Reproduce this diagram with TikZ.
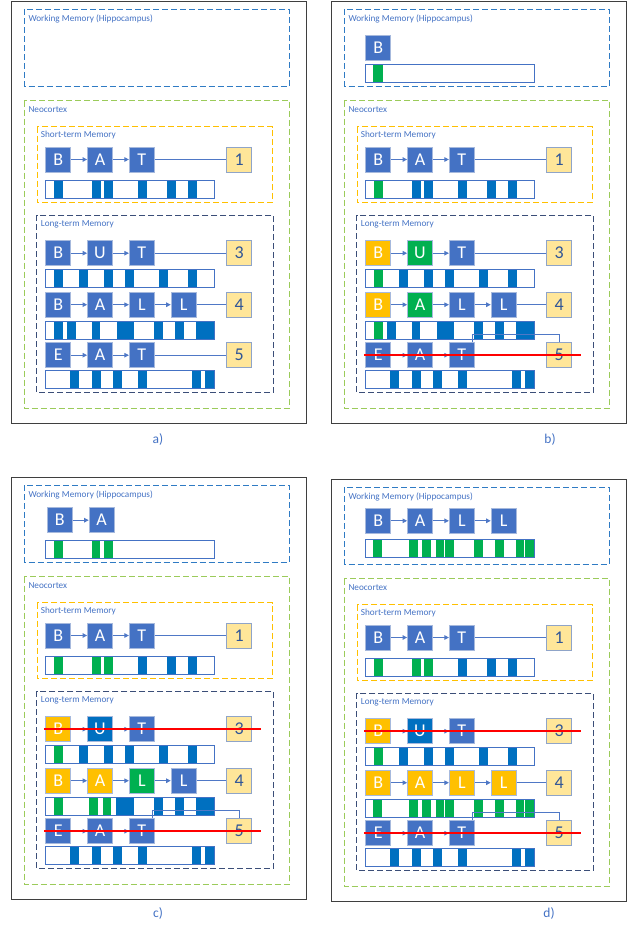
\documentclass[tikz,border=0pt]{standalone}
\usepackage{fontspec}
\setmainfont{Carlito}
\usetikzlibrary{arrows.meta}
\definecolor{lblue}{HTML}{4472C4}
\definecolor{sblue}{HTML}{0070C0}
\definecolor{sgreen}{HTML}{00B050}
\definecolor{orng}{HTML}{FFC000}
\definecolor{nyel}{HTML}{FFE699}
\definecolor{nborder}{HTML}{8FA4C8}
\definecolor{lborder}{HTML}{A6B9DD}
\definecolor{ntext}{HTML}{2F5597}
\definecolor{cline}{HTML}{4F78C6}
\definecolor{wmcol}{HTML}{2F7BC4}
\definecolor{neocol}{HTML}{9BCB5A}
\definecolor{stcol}{HTML}{FFC000}
\definecolor{ltcol}{HTML}{3B4E78}
\definecolor{outcol}{HTML}{3F3F3F}
\definecolor{labcol}{HTML}{4472C4}
\tikzset{
  lbox/.style={draw=lborder, line width=0.8pt, fill=lblue, text=white, minimum size=25pt, inner sep=0pt, font=\fontsize{18}{18}\selectfont},
  nbox/.style={lbox, fill=nyel, draw=nborder, text=ntext},
  conn/.style={draw=cline, line width=0.9pt},
  arr/.style={conn, -{Triangle[length=4.5pt,width=4.5pt]}},
  barbox/.style={draw=none, fill=white, minimum width=168.3pt, minimum height=17.5pt, inner sep=0pt},
  barline/.style={draw=lblue, line width=0.9pt},
  dbox/.style={line width=1pt, dash pattern=on 6pt off 3pt},
  lab/.style={anchor=west, text=labcol, font=\fontsize{9.2}{10}\selectfont, inner sep=0pt},
  plab/.style={text=labcol, font=\fontsize{13.5}{14}\selectfont, inner sep=0pt},
  strike/.style={draw=red, line width=2.5pt},
  outer/.style={draw=outcol, line width=0.9pt},
}
% #1 name, #2 top y, #3 stripes x/w/colour
\newcommand\membar[3]{%
  \node[barbox] (#1) at (129.85,#2+8.75) {};
  \foreach \sx/\sw/\sc in {#3}{\fill[\sc] (\sx,#2) rectangle ++(\sw,17.5);}
  \draw[barline] (#1.north west) rectangle (#1.south east);
}
% common parts of a panel
\newcommand\frameparts[1]{%
  \draw[outer] (11.5,1.5) rectangle (306,423);
  \draw[dbox, draw=wmcol] (24.3,9.3) rectangle (289.3,86);
  \draw[dbox, draw=neocol] (24.3,100.7) rectangle (289.3,408.3);
  \draw[dbox, draw=stcol] (37.3,126.7) rectangle (272.7,202.7);
  \draw[dbox, draw=ltcol] (36.7,215) rectangle (273.3,392.7);
  \node[lab] (#1-wml) at (28.3,19) {Working Memory (Hippocampus)};
  \node[lab] (#1-nel) at (28.3,110) {Neocortex};
  \node[lab] (#1-stl) at (40.7,135) {Short-term Memory};
  \node[lab] (#1-ltl) at (40.7,224) {Long-term Memory};
  % short-term row
  \node[lbox] (#1-s1) at (58.2,159.5) {B};
  \node[lbox] (#1-s2) at (100,159.5) {A};
  \node[lbox] (#1-s3) at (141.8,159.5) {T};
  \node[nbox] (#1-sn) at (239.2,159.5) {1};
  \draw[arr] (#1-s1) -- (#1-s2);
  \draw[arr] (#1-s2) -- (#1-s3);
  \draw[conn] (#1-s3) -- (#1-sn);
  % long-term row 3
  \node[lbox] (#1-r31) at (58.2,355.2) {E};
  \node[lbox] (#1-r32) at (100,355.2) {A};
  \node[lbox] (#1-r33) at (141.8,355.2) {T};
  \node[nbox] (#1-r3n) at (239.2,355.2) {5};
  \draw[arr] (#1-r31) -- (#1-r32);
  \draw[arr] (#1-r32) -- (#1-r33);
  \membar{#1-b3}{371}{70/9/sblue, 91.7/9/sblue, 113/9/sblue, 138/8.7/sblue, 191.7/9/sblue, 204.7/9.3/sblue}
}
% row 1 and row 2 letters
\newcommand\rowone[4]{% prefix, colours B U T
  \node[lbox, fill=#2] (#1-r11) at (58.2,253.2) {B};
  \node[lbox, fill=#3] (#1-r12) at (100,253.2) {U};
  \node[lbox, fill=#4] (#1-r13) at (141.8,253.2) {T};
  \node[nbox] (#1-r1n) at (239.2,253.2) {3};
  \draw[arr] (#1-r11) -- (#1-r12);
  \draw[arr] (#1-r12) -- (#1-r13);
}
\newcommand\rowtwo[5]{% prefix, colours B A L L
  \node[lbox, fill=#2] (#1-r21) at (58.2,304.7) {B};
  \node[lbox, fill=#3] (#1-r22) at (100,304.7) {A};
  \node[lbox, fill=#4] (#1-r23) at (141.8,304.7) {L};
  \node[lbox, fill=#5] (#1-r24) at (183.6,304.7) {L};
  \node[nbox] (#1-r2n) at (239.2,304.7) {4};
  \draw[arr] (#1-r21) -- (#1-r22);
  \draw[arr] (#1-r22) -- (#1-r23);
  \draw[arr] (#1-r23) -- (#1-r24);
  \draw[conn] (#1-r24) -- (#1-r2n);
}
\newcommand\elbowstrike[1]{%
  \draw[conn] ([xshift=-2pt]#1-r33.north east) -- ++(0,-8.3) -| (#1-r3n.north);
  \draw[strike] ([xshift=-1.5pt]#1-r31.west) -- ([xshift=8.5pt]#1-r3n.east);
}
\begin{document}
\begin{tikzpicture}[x=1pt,y=-1pt]
\useasboundingbox (0,0) rectangle (629,926);
% ---------------- panel a
\begin{scope}
  \frameparts{a}
  \membar{a-sb}{181}{53.5/9/sblue, 91.7/9/sblue, 104.3/8.7/sblue, 137.7/9/sblue, 167/9/sblue, 188/9/sblue}
  \rowone{a}{lblue}{lblue}{lblue}
  \draw[conn] (a-r13) -- (a-r1n);
  \membar{a-b1}{270}{54.3/8.5/sblue, 79.3/8.7/sblue, 104.3/8.7/sblue, 125.3/8.7/sblue, 159/8.7/sblue, 188.3/9/sblue}
  \rowtwo{a}{lblue}{lblue}{lblue}{lblue}
  \membar{a-b2}{321.5}{54.3/8.5/sblue, 67/8.7/sblue, 91.7/8.7/sblue, 116.7/17.3/sblue, 154.3/8.7/sblue, 175/8.7/sblue, 196/18.3/sblue}
  \draw[conn] (a-r33) -- (a-r3n);
\end{scope}
\node[plab] (la) at (158,439) {a)};
% ---------------- panel b
\begin{scope}[shift={(320,0)}]
  \frameparts{b}
  \node[lbox] (b-w1) at (58.2,47.8) {B};
  \membar{b-wb}{65}{53.3/9.4/sgreen}
  \membar{b-sb}{181}{53.5/9/sgreen, 91.7/9/sblue, 104.3/8.7/sblue, 137.7/9/sblue, 167/9/sblue, 188/9/sblue}
  \rowone{b}{orng}{sgreen}{lblue}
  \draw[conn] (b-r13) -- (b-r1n);
  \membar{b-b1}{270}{54.3/8.5/sgreen, 79.3/8.7/sblue, 104.3/8.7/sblue, 125.3/8.7/sblue, 159/8.7/sblue, 188.3/9/sblue}
  \rowtwo{b}{orng}{sgreen}{lblue}{lblue}
  \membar{b-b2}{321.5}{54.3/8.5/sgreen, 67/8.7/sblue, 91.7/8.7/sblue, 116.7/17.3/sblue, 154.3/8.7/sblue, 175/8.7/sblue, 196/18.3/sblue}
  \elbowstrike{b}
\end{scope}
\node[plab] (lb) at (550,439.5) {b)};
% ---------------- panel c
\begin{scope}[shift={(0,476)}]
  \frameparts{c}
  \node[lbox] (c-w1) at (59.8,44.2) {B};
  \node[lbox] (c-w2) at (101.6,44.2) {A};
  \draw[arr] (c-w1) -- (c-w2);
  \membar{c-wb}{64.7}{54.3/8.4/sgreen, 91.7/8.6/sgreen, 104.3/8.7/sgreen}
  \membar{c-sb}{181}{53.5/9/sgreen, 91.7/9/sgreen, 104.3/8.7/sgreen, 137.7/9/sblue, 167/9/sblue, 188/9/sblue}
  \rowone{c}{orng}{sblue}{lblue}
  \membar{c-b1}{270}{54.3/8.5/sgreen, 79.3/8.7/sblue, 104.3/8.7/sblue, 125.3/8.7/sblue, 159/8.7/sblue, 188.3/9/sblue}
  \draw[strike] ([xshift=-1.5pt]c-r11.west) -- ([xshift=8.5pt]c-r1n.east);
  \rowtwo{c}{orng}{orng}{sgreen}{lblue}
  \membar{c-b2}{321.5}{54.3/8.5/sgreen, 89.3/8.5/sgreen, 102.7/8/sgreen, 116/18/sblue, 154.3/8.7/sblue, 175/8.7/sblue, 196/18.3/sblue}
  \elbowstrike{c}
\end{scope}
\node[plab] (lc) at (158,913) {c)};
% ---------------- panel d
\begin{scope}[shift={(320,478)}]
  \frameparts{d}
  \node[lbox] (d-w1) at (58.2,42.8) {B};
  \node[lbox] (d-w2) at (100,42.8) {A};
  \node[lbox] (d-w3) at (141.8,42.8) {L};
  \node[lbox] (d-w4) at (183.6,42.8) {L};
  \draw[arr] (d-w1) -- (d-w2);
  \draw[arr] (d-w2) -- (d-w3);
  \draw[arr] (d-w3) -- (d-w4);
  \membar{d-wb}{62}{53.3/9/sgreen, 89.3/8.4/sgreen, 102.3/8.4/sgreen, 116/8.3/sgreen, 125.3/8.4/sgreen, 154/8.7/sgreen, 175.3/8.4/sgreen, 196/8.3/sgreen, 205.3/8.7/sgreen}
  \membar{d-sb}{181}{53.5/9/sgreen, 91.7/9/sgreen, 104.3/8.7/sgreen, 137.7/9/sblue, 167/9/sblue, 188/9/sblue}
  \rowone{d}{orng}{sblue}{lblue}
  \membar{d-b1}{270}{54.3/8.5/sgreen, 79.3/8.7/sblue, 104.3/8.7/sblue, 125.3/8.7/sblue, 159/8.7/sblue, 188.3/9/sblue}
  \draw[strike] ([xshift=-1.5pt]d-r11.west) -- ([xshift=8.5pt]d-r1n.east);
  \rowtwo{d}{orng}{orng}{orng}{orng}
  \membar{d-b2}{321.5}{53.3/9/sgreen, 89.3/8.4/sgreen, 102.3/8.4/sgreen, 116/8.3/sgreen, 125.3/8.4/sgreen, 154/8.7/sgreen, 175.3/8.4/sgreen, 196/8.3/sgreen, 205.3/8.7/sgreen}
  \elbowstrike{d}
\end{scope}
\node[plab] (ld) at (549,913) {d)};
\end{tikzpicture}
\end{document}
